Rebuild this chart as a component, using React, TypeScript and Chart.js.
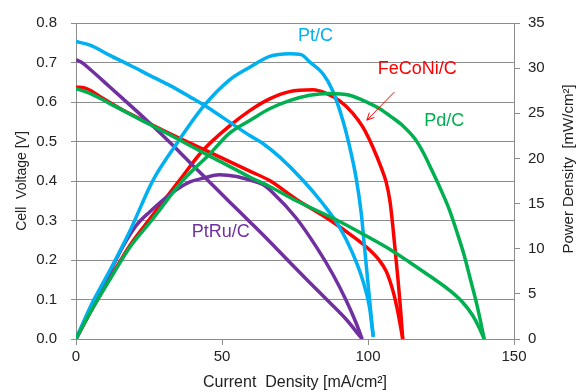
import React, { useEffect, useRef } from "react";
import { Chart, registerables } from "chart.js";

Chart.register(...registerables);

// Current density [mA/cm2] vs cell voltage [V] (polarization curves)
const ptPolI = [0, 4.8, 11.6, 18.5, 26.4, 32.1, 39, 45.8, 52.6, 59.5, 64, 69.7, 77.7, 84.5, 90.2, 94.8, 98.2, 100.5, 101.8];
const ptPolV = [0.753, 0.744, 0.718, 0.693, 0.663, 0.642, 0.613, 0.583, 0.549, 0.515, 0.495, 0.461, 0.402, 0.343, 0.284, 0.216, 0.149, 0.081, 0.005];

const ptruPolI = [0, 2, 4.8, 11.6, 18.5, 25.3, 32.1, 39, 45.8, 52.6, 59.5, 66.3, 73.1, 80, 86.8, 92.5, 98];
const ptruPolV = [0.707, 0.7, 0.683, 0.638, 0.592, 0.546, 0.498, 0.447, 0.397, 0.347, 0.297, 0.247, 0.195, 0.143, 0.093, 0.05, 0.0];

const fePolI = [0, 3.6, 9.3, 16.2, 25.3, 34.4, 43.5, 52.6, 59.5, 66.3, 75.4, 86.8, 94.8, 100.5, 103.9, 106.2, 107.6, 108.8, 109.9, 110.9, 111.9];
const fePolV = [0.638, 0.634, 0.609, 0.579, 0.545, 0.512, 0.481, 0.449, 0.425, 0.401, 0.354, 0.302, 0.26, 0.226, 0.199, 0.172, 0.145, 0.115, 0.08, 0.042, 0.0];

const pdPolI = [0, 4.8, 11.6, 18.5, 25.3, 32.1, 39, 45.8, 52.6, 59.5, 66.3, 75.4, 89.1, 98.2, 107.3, 114.1, 121, 127.8, 132.4, 135.8, 138, 139.8];
const pdPolV = [0.634, 0.622, 0.596, 0.569, 0.543, 0.517, 0.49, 0.463, 0.437, 0.41, 0.386, 0.35, 0.302, 0.266, 0.228, 0.195, 0.16, 0.124, 0.093, 0.06, 0.03, 0.0];

// Current density [mA/cm2] vs power density [mW/cm2]
const ptPowI = [0, 4.8, 11.6, 18.5, 26.4, 34.4, 43.5, 52.6, 59.5, 66.3, 73.1, 77.1, 80, 84.5, 87.9, 91.4, 93.7, 95.9, 97.7, 98.8, 99.9, 101, 101.8];
const ptPowP = [0, 3.5, 7.6, 12.0, 17.6, 21.6, 25.7, 28.7, 30.1, 31.3, 31.6, 31.5, 30.7, 29.4, 27.5, 24.2, 21.3, 17.9, 13.9, 10.2, 6.5, 2.8, 0.3];

const ptruPowI = [0, 4.8, 11.6, 16, 20.7, 25.3, 32.1, 39, 43.5, 49, 55, 59.5, 64, 67.4, 75.4, 82.3, 87.9, 92.5, 95.9, 98];
const ptruPowP = [0, 3.1, 7.4, 10.2, 12.6, 14.1, 16.0, 17.4, 17.8, 18.2, 18.0, 17.6, 17.1, 16.2, 13.4, 10.2, 7.2, 4.3, 1.8, 0];

const fePowI = [0, 4.8, 11.6, 18.5, 25.3, 35.5, 43.5, 52.6, 59.5, 66.3, 73.1, 81.1, 85.7, 90.2, 94.8, 98.2, 101.6, 104.5, 106.2, 107.5, 108.5, 109.4, 110.3, 111.1, 111.9];
const fePowP = [0, 2.9, 6.7, 10.4, 13.3, 17.6, 20.9, 23.6, 25.3, 26.6, 27.4, 27.6, 27.2, 26.4, 25.0, 23.5, 21.3, 19.0, 17.4, 15.3, 12.5, 9.5, 6.5, 3.5, 0];

const pdPowI = [0, 4.8, 11.6, 18.5, 25.3, 36.7, 45.8, 52.6, 59.5, 66.3, 73.1, 80, 86.8, 93.7, 100.5, 104, 108, 112, 116, 119, 122, 125, 128, 130.5, 133, 135, 137.5, 139.8];
const pdPowP = [0, 2.9, 6.6, 10.2, 12.9, 17.6, 20.5, 22.8, 24.2, 25.5, 26.4, 27.0, 27.2, 27.0, 26.1, 25.5, 24.6, 23.6, 22.2, 20.6, 18.6, 16.5, 14.2, 11.8, 9.2, 6.7, 3.5, 0];

const xTicks = [0, 50, 100, 150];
const seriesNames = ["Pt/C", "PtRu/C", "FeCoNi/C", "Pd/C"];
const seriesColors = ["#00b0f0", "#7030a0", "#ff0000", "#00b050"];

const FONT = '"Liberation Sans", Arial, sans-serif';

const zip = (xs: number[], ys: number[]) => xs.map((x, i) => ({ x, y: ys[i] }));

export default function App() {
  const ref = useRef<HTMLCanvasElement | null>(null);

  useEffect(() => {
    if (!ref.current) return;

    const labelsPlugin = {
      id: "labelsPlugin",
      afterDatasetsDraw(chart: any) {
        const { ctx, scales } = chart;
        const x = scales.x;
        const y = scales.y;
        ctx.save();
        ctx.font = `18px ${FONT}`;
        ctx.textAlign = "center";
        ctx.textBaseline = "middle";
        const labels: [string, string, number, number][] = [
          [seriesNames[0], seriesColors[0], 82, 0.766],
          [seriesNames[2], seriesColors[2], 116.9, 0.683],
          [seriesNames[3], seriesColors[3], 126.1, 0.553],
          [seriesNames[1], seriesColors[1], 49.6, 0.27],
        ];
        for (const [t, c, lx, ly] of labels) {
          ctx.fillStyle = c;
          ctx.fillText(t, x.getPixelForValue(lx), y.getPixelForValue(ly));
        }
        // arrow
        const x1 = x.getPixelForValue(109);
        const y1 = y.getPixelForValue(0.625);
        const x2 = x.getPixelForValue(99.6);
        const y2 = y.getPixelForValue(0.554);
        ctx.strokeStyle = "#ff0000";
        ctx.lineWidth = 1;
        ctx.beginPath();
        ctx.moveTo(x1, y1);
        ctx.lineTo(x2, y2);
        const ang = Math.atan2(y2 - y1, x2 - x1);
        const hl = 8;
        ctx.moveTo(x2, y2);
        ctx.lineTo(x2 - hl * Math.cos(ang - 0.45), y2 - hl * Math.sin(ang - 0.45));
        ctx.moveTo(x2, y2);
        ctx.lineTo(x2 - hl * Math.cos(ang + 0.45), y2 - hl * Math.sin(ang + 0.45));
        ctx.stroke();
        ctx.restore();
      },
      afterDraw(chart: any) {
        const { ctx, chartArea } = chart;
        ctx.save();
        ctx.font = `15px ${FONT}`;
        ctx.fillStyle = "#222";
        ctx.textAlign = "center";
        ctx.textBaseline = "middle";
        ctx.translate(569, (chartArea.top + chartArea.bottom) / 2 - 12);
        ctx.rotate(-Math.PI / 2);
        ctx.fillText("Power Density  [mW/cm²]", 0, 0);
        ctx.restore();
      },
    };

    const mk = (label: string, color: string, data: any[], axis: string) => ({
      label,
      data,
      yAxisID: axis,
      borderColor: color,
      backgroundColor: color,
      borderWidth: 3.5,
      pointRadius: 0,
      showLine: true,
      fill: false,
      cubicInterpolationMode: "monotone" as const,
    });

    const chart = new Chart(ref.current, {
      type: "scatter",
      data: {
        datasets: [
          mk(seriesNames[3], seriesColors[3], zip(pdPolI, pdPolV), "y"),
          mk(seriesNames[3], seriesColors[3], zip(pdPowI, pdPowP), "y2"),
          mk(seriesNames[0], seriesColors[0], zip(ptPolI, ptPolV), "y"),
          mk(seriesNames[0], seriesColors[0], zip(ptPowI, ptPowP), "y2"),
          mk(seriesNames[1], seriesColors[1], zip(ptruPolI, ptruPolV), "y"),
          mk(seriesNames[1], seriesColors[1], zip(ptruPowI, ptruPowP), "y2"),
          mk(seriesNames[2], seriesColors[2], zip(fePolI, fePolV), "y"),
          mk(seriesNames[2], seriesColors[2], zip(fePowI, fePowP), "y2"),
        ],
      },
      options: {
        animation: false,
        responsive: true,
        maintainAspectRatio: false,
        layout: { padding: { top: 23, left: 0, right: 0, bottom: 0 } },
        plugins: { legend: { display: false }, tooltip: { enabled: false } },
        scales: {
          x: {
            type: "linear",
            min: 0,
            max: 150,
            afterBuildTicks: (s: any) => {
              s.ticks = xTicks.map((v) => ({ value: v }));
            },
            afterFit: (s: any) => {
              s.height = 53;
            },
            grid: { drawOnChartArea: false, drawTicks: true, tickLength: 6, color: "#8c8c8c" },
            border: { color: "#8c8c8c", width: 1 },
            ticks: { color: "#222", font: { size: 15, family: FONT }, padding: 3, maxRotation: 0 },
            title: {
              display: true,
              text: "Current  Density [mA/cm²]",
              color: "#222",
              font: { size: 16, family: FONT },
              padding: { top: 0, bottom: 0 },
            },
          },
          y: {
            type: "linear",
            position: "left",
            min: 0,
            max: 0.8,
            afterFit: (s: any) => {
              s.width = 76;
            },
            grid: { color: "#8c8c8c", lineWidth: 1, tickLength: 5 },
            border: { color: "#8c8c8c", width: 1 },
            ticks: {
              stepSize: 0.1,
              color: "#222",
              font: { size: 15, family: FONT },
              padding: 14,
              callback: (v: any) => Number(v).toFixed(1),
            },
            title: {
              display: true,
              text: "Cell  Voltage [V]",
              color: "#222",
              font: { size: 14, family: FONT },
              padding: { top: 14, bottom: 0 },
            },
          },
          y2: {
            type: "linear",
            position: "right",
            min: 0,
            max: 35,
            afterFit: (s: any) => {
              s.width = 64;
            },
            grid: { drawOnChartArea: false, drawTicks: true, tickLength: 6, color: "#8c8c8c" },
            border: { color: "#8c8c8c", width: 1 },
            ticks: { stepSize: 5, color: "#222", font: { size: 15, family: FONT }, padding: 8 },
          },
        },
      },
      plugins: [labelsPlugin],
    });

    return () => chart.destroy();
  }, []);

  return (
    <div style={{ position: "absolute", left: 0, top: 0, width: 578, height: 392, background: "#fff" }}>
      <canvas ref={ref} />
    </div>
  );
}
